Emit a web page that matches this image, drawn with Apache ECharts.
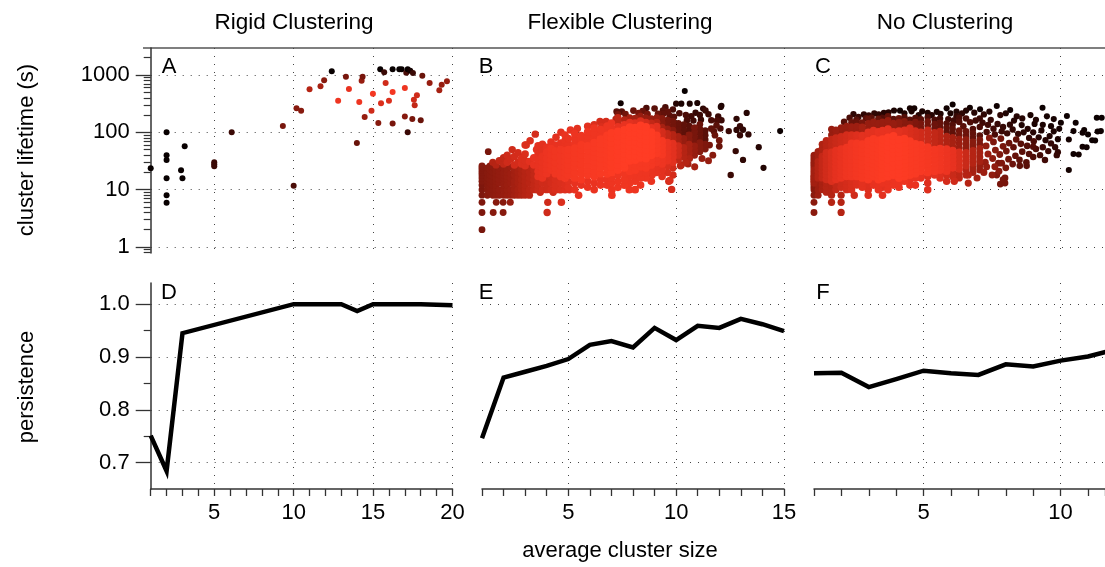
<!DOCTYPE html>
<html>
<head>
<meta charset="utf-8">
<script src="https://cdn.jsdelivr.net/npm/echarts@6/dist/echarts.min.js"></script>
<style>
    html, body { margin: 0; background: #fff; }
    #chart { width: 1105px; height: 567px; }
</style>
</head>
<body>
<div id="chart"></div>
<script>
// ---- data ----
// panel A: [avg cluster size, lifetime (s), colour level 0 = black .. 1 = bright red]
const rigidPts = [
    [1, 23.6, 0], [2, 100, 0], [2, 40, 0], [2, 33, 0], [2, 15.8, 0], [2, 8, 0], [2, 5.9, 0],
    [2.91, 21.7, 0], [3, 15.8, 0], [3.14, 57, 0],
    [5, 30, .2], [5, 27.7, .2], [5, 25.5, .2], [6.1, 100, .2], [9.32, 129, .4], [10, 11.7, .25],
    [10.18, 262, .45], [10.47, 239, .45], [11, 562, .6], [11.69, 635, .55], [11.92, 807, .45],
    [12.4, 1158, 0], [12.8, 357, .85], [13.29, 935, .4], [13.48, 570, .8], [13.98, 65, .35],
    [14.13, 338, .85], [14.28, 796, .5], [14.34, 935, .4], [14.47, 185, .5], [14.9, 239, .7],
    [14.99, 472, .9], [15.33, 145, .45], [15.45, 1256, 0], [15.5, 320, .75], [15.7, 1113, .2],
    [15.79, 725, .7], [16, 357, .75], [16.23, 505, .9], [16.23, 142, .4], [16.23, 1256, 0],
    [16.65, 1256, 0], [16.8, 1256, 0], [17, 593, .85], [17, 188, .45], [17.09, 1098, .25],
    [17.18, 1256, 0], [17.34, 1190, .05], [17.18, 100, .2], [17.47, 171, .4], [17.51, 1083, .2],
    [17.57, 371, .7], [17.62, 296, .65], [17.76, 442, .7], [18, 162, .35], [18.1, 973, .35],
    [18.56, 725, .5], [19.17, 540, .55], [19.32, 678, .5], [19.65, 776, .5]
];

// panel B: dense part as column pieces [x, level, [lifetimes]], fringe as single dots [x, lifetime, level]
const flexCore = [
    [1, .42, [4, 6, 8, 10, 12]], [1, .44, [14, 16, 18, 20, 22, 24, 26]],
    [1.25, .45, [8, 10, 12, 14, 16, 20, 24]],
    [1.37, .46, [9, 11, 13, 15, 18, 22, 26]],
    [1.5, .47, [8, 10, 12, 14, 17, 20, 25]], [1.5, .6, [30]],
    [1.65, .48, [8, 10, 12, 14, 16, 19, 22]], [1.65, .6, [27]],
    [1.8, .49, [8, 10, 13, 15, 18, 21, 24]], [1.8, .65, [32]],
    [2, .5, [8, 10, 12, 14, 16, 18, 20, 24]], [2, .65, [28, 36]],
    [2.17, .51, [8, 10, 12, 15, 17, 20, 23]], [2.17, .7, [30, 40]],
    [2.33, .52, [8, 10, 13, 16, 19, 25]], [2.33, .7, [34]],
    [2.5, .54, [8, 10, 12, 14, 18, 22]], [2.5, .72, [27]],
    [2.67, .56, [8, 10, 13, 16, 20, 24]], [2.67, .72, [30, 44]],
    [2.83, .58, [8, 10, 12, 15, 19, 23]], [2.83, .75, [28, 35]],
    [3, .6, [8, 10, 12, 14, 17, 21]], [3, .75, [26, 32, 42, 60]],
    [3.2, .62, [8, 10, 13, 16, 20, 25]], [3.2, .78, [31]],
    [3.4, .65, [10, 12, 15, 18, 22]], [3.4, .8, [27, 36]],
    [3.6, .68, [10, 12, 14]], [3.6, .8, [17, 21, 26, 33]], [3.6, .78, [42, 58]],
    [3.8, .7, [10, 13]], [3.8, .82, [16, 20, 24, 30, 38]], [3.8, .78, [48, 62]],
    [4, .7, [10, 12, 15]], [4, .84, [19, 23, 28, 35, 45]], [4, .8, [55]],
    [4.2, .72, [10, 13, 17]], [4.2, .86, [22, 27, 33, 41, 52]], [4.2, .8, [68]],
    [4.4, .74, [10, 12, 15]], [4.4, .87, [19, 24, 30, 38, 47]], [4.4, .8, [60]],
    [4.65, .75, [10, 13]], [4.65, .88, [17, 21, 26, 32, 40, 50]], [4.65, .8, [65]],
    [4.85, .76, [10, 12]], [4.85, .89, [16, 20, 25, 31, 39, 48]], [4.85, .82, [58, 72, 90]],
    [5, .78, [11, 14]], [5, .9, [18, 22, 27, 33, 41, 50]], [5, .82, [62, 78]],
    [5.3, .8, [10, 13]], [5.3, .91, [16, 20, 25, 30, 36, 44, 53]], [5.3, .84, [64, 78, 95]],
    [5.6, .8, [12]], [5.6, .92, [15, 19, 23, 28, 34, 41, 50, 60]], [5.6, .85, [72, 88]],
    [5.9, .82, [11, 14]], [5.9, .93, [18, 22, 27, 33, 40, 48, 58]], [5.9, .86, [70, 85, 102]],
    [6.2, .82, [13]], [6.2, .94, [17, 21, 26, 31, 38, 46, 55, 66]], [6.2, .86, [80, 96, 118]],
    [6.5, .84, [12, 15]], [6.5, .95, [19, 24, 29, 35, 43, 52, 63, 76]], [6.5, .86, [92, 112]],
    [6.8, .84, [12, 15]], [6.8, .96, [19, 23, 28, 34, 41, 50, 60, 73, 88]], [6.8, .85, [106, 128]],
    [7, .85, [13, 16]], [7, .97, [20, 25, 30, 37, 45, 55, 66, 80, 97]], [7, .84, [118, 145]],
    [7.3, .86, [11, 14, 18]], [7.3, .98, [22, 27, 33, 40, 48, 58, 70, 85, 103]], [7.3, .8, [125]], [7.3, .65, [150, 180]],
    [7.6, .87, [12, 15, 19]], [7.6, .99, [24, 29, 35, 42, 51, 62, 75, 90, 110]], [7.6, .8, [135]], [7.6, .6, [165]],
    [7.85, .86, [13, 17]], [7.85, .92, [21, 26]], [7.85, 1, [32, 39, 47, 57, 69, 83, 100, 122]], [7.85, .78, [148]], [7.85, .55, [180]],
    [8.1, .85, [14, 18]], [8.1, .92, [22, 27]], [8.1, 1, [33, 40, 48, 58, 70, 84, 100, 120]], [8.1, .76, [145]], [8.1, .55, [175]],
    [8.35, .85, [12, 16, 20]], [8.35, .92, [25, 30]], [8.35, 1, [36, 44, 53, 64, 77, 92, 110, 132]], [8.35, .75, [158]], [8.35, .5, [190]],
    [8.6, .85, [20]], [8.6, .92, [24, 29]], [8.6, 1, [35, 42, 50, 60, 72, 86, 103, 124]], [8.6, .72, [148]], [8.6, .5, [178]],
    [8.85, .82, [14, 22]], [8.85, .9, [27, 33]], [8.85, .99, [40, 48, 58, 70, 84, 100]], [8.85, .8, [120]], [8.85, .65, [144]], [8.85, .5, [172]],
    [9.1, .8, [20, 25]], [9.1, .88, [30, 36]], [9.1, .96, [43, 52, 62, 74, 88]], [9.1, .78, [105, 126]], [9.1, .6, [150]], [9.1, .5, [180]],
    [9.35, .78, [17, 22]], [9.35, .85, [28, 34]], [9.35, .92, [41, 49, 59, 71]], [9.35, .72, [85, 102]], [9.35, .55, [122]], [9.35, .45, [146, 175]],
    [9.6, .75, [20, 26]], [9.6, .82, [32, 38, 46, 55, 66]], [9.6, .65, [79, 95]], [9.6, .5, [114]], [9.6, .4, [136, 163]],
    [9.85, .72, [18, 24]], [9.85, .78, [30, 37, 44, 53, 64]], [9.85, .6, [76, 91]], [9.85, .45, [109]], [9.85, .38, [130, 156]],
    [10.1, .65, [33]], [10.1, .7, [40, 48, 58]], [10.1, .55, [70, 84]], [10.1, .35, [100, 120, 144]],
    [10.35, .6, [37, 45, 54]], [10.35, .5, [65, 78]], [10.35, .32, [94, 113, 136]],
    [10.6, .55, [43, 52, 62]], [10.6, .45, [75, 90]], [10.6, .3, [108, 130]],
    [10.85, .5, [40, 48, 58]], [10.85, .4, [70, 84, 101, 121]],
    [11.1, .45, [46, 55, 66]], [11.1, .35, [80, 96, 115, 138]],
    [11.35, .42, [51, 62]], [11.35, .3, [74, 89, 107]]
];
const flexEdge = [
    [1, 2, .4], [1.52, 4, .45], [1.98, 4, .45], [4.02, 4, .7], [1.66, 6, .45], [2.31, 6, .5], [1.98, 6, .45],
    [4.05, 6, .7], [4.68, 6, .75], [5.48, 8, .8], [6.2, 10, .82], [7.02, 10, .84], [7.02, 8, .84],
    [7.83, 10, .86], [8.1, 10, .85], [8.3, 19.8, .85], [8.6, 16, .85], [8.88, 18, .82], [9.71, 14.4, .75],
    [9.79, 10.1, .72], [9.66, 14, .72], [10.2, 26, .62], [10.45, 30, .6], [10.62, 35, .58],
    [3.55, 10, .66], [4.55, 10, .72], [5.05, 10, .76], [3.7, 9, .68], [4.3, 9, .7],
    [1.29, 46, .4], [2.92, 38, .72], [3.23, 71, .75], [3.47, 93, .72], [3.53, 50, .78], [4.15, 49, .8],
    [4.43, 82, .78], [4.93, 69, .8], [5.16, 55, .82], [5.42, 117, .78], [5.82, 82, .82], [6.24, 102, .78],
    [6.47, 154, .72], [6.75, 154, .72], [6.94, 110, .75], [5.1, 110, .8], [4.66, 100, .78], [5.9, 128, .78],
    [6.2, 135, .75], [6.55, 125, .75], [2.5, 38, .72], [2.4, 50, .7], [3.05, 60, .75],
    [7.21, 170, .6], [7.24, 230, .3], [7.48, 230, .3], [7.43, 321, .03], [7.3, 205, .4], [7.65, 207, .38],
    [8.26, 216, .4], [8.02, 240, .35], [8.62, 265, .25], [8.67, 207, .4], [8.45, 235, .35], [9.0, 260, .3],
    [9.16, 211, .35], [9.39, 240, .3], [9.62, 227, .33], [9.5, 275, .25], [9.85, 250, .25], [10.0, 316, .12],
    [10.24, 316, .08], [10.4, 527, 0], [10.63, 316, .08], [10.98, 325, .08], [10.15, 215, .25],
    [10.45, 200, .25], [10.7, 190, .22], [10.9, 220, .18], [11.25, 260, .15], [11.36, 240, .2],
    [11.1, 200, .2], [11.5, 207, .2], [11.63, 162, .25], [11.87, 132, .3], [11.63, 116, .32],
    [11.8, 89, .35], [12.0, 72, .38], [11.7, 40, .45], [11.5, 32, .5], [11.2, 35, .5], [10.86, 25, .55],
    [10.55, 28, .55], [10.24, 27, .58], [12.07, 277, .1], [12.1, 290, .08], [11.9, 160, .25],
    [12.05, 117, .25], [12.0, 57, .35], [11.95, 190, .2], [12.1, 162, .2], [11.55, 60, .4], [11.75, 104, .3],
    [10.8, 160, .22], [11.15, 166, .2], [10.5, 163, .25], [9.9, 187, .3], [9.7, 195, .3], [9.4, 210, .33],
    [12.44, 105, .2], [12.53, 18, .2], [12.76, 47, .18], [12.8, 110, .15], [12.8, 172, .15], [12.96, 89, .18],
    [12.96, 128, .18], [13.1, 33, .15], [13.1, 111, .15], [13.27, 218, .12], [13.35, 92, .15],
    [13.83, 55, .12], [14.05, 24, .1], [14.82, 105, .02]
];

// panel C, same two forms
const noneCore = [
    [1, .46, [4, 6, 8, 10, 11, 12]], [1, .54, [13, 14, 15, 16, 17, 18, 20, 22]], [1, .5, [24, 26, 28, 30, 33, 36, 40]],
    [1.15, .52, [8, 10, 12, 14]], [1.15, .6, [16, 18, 21, 24, 27, 31]], [1.15, .54, [35, 40, 46]],
    [1.3, .56, [10, 12, 14]], [1.3, .66, [16, 19, 22, 25, 29, 33, 38]], [1.3, .58, [44, 52, 62]],
    [1.45, .6, [9, 11, 13]], [1.45, .71, [15, 18, 21, 24, 28, 33, 38, 44]], [1.45, .62, [51, 60, 72]],
    [1.64, .6, [6, 8, 10, 12]], [1.64, .75, [14, 17, 20, 24, 28, 33, 38, 45]], [1.64, .65, [53, 62, 75]], [1.64, .5, [90, 113]],
    [1.8, .66, [10, 12]], [1.8, .79, [15, 18, 21, 25, 30, 35, 41, 48]], [1.8, .68, [57, 67, 80]], [1.8, .52, [95, 110]],
    [1.99, .6, [4, 6, 8]], [1.99, .7, [11, 13]], [1.99, .82, [16, 19, 22, 26, 31, 37, 43, 51]], [1.99, .7, [60, 71, 84]], [1.99, .5, [100, 120]],
    [2.19, .72, [10, 12, 14]], [2.19, .86, [17, 20, 24, 28, 33, 39, 46, 54]], [2.19, .72, [64, 76, 90]], [2.19, .5, [108, 128]],
    [2.37, .74, [10, 12, 14]], [2.37, .88, [17, 20, 24, 28, 33, 39, 46, 54, 64]], [2.37, .74, [76, 90]], [2.37, .52, [106, 125]], [2.37, .35, [150]],
    [2.47, .7, [8]],
    [2.56, .76, [12, 14]], [2.56, .9, [17, 20, 24, 28, 33, 39, 46, 54, 64]], [2.56, .76, [76, 90]], [2.56, .52, [107, 127]], [2.56, .35, [150]],
    [2.76, .78, [11, 13]], [2.76, .92, [16, 19, 22, 26, 31, 37, 44, 52, 62]], [2.76, .78, [74, 88]], [2.76, .55, [104, 124]], [2.76, .4, [148]],
    [2.98, .76, [8, 10, 12]], [2.98, .94, [15, 18, 21, 25, 30, 35, 42, 50, 60, 71]], [2.98, .78, [85, 100]], [2.98, .5, [120, 142]], [2.98, .35, [170]],
    [3.17, .8, [12, 14]], [3.17, .95, [17, 20, 24, 28, 33, 39, 46, 55, 65, 77]], [3.17, .78, [91, 108]], [3.17, .5, [128, 152]],
    [3.35, .8, [10, 12]], [3.35, .96, [15, 18, 21, 25, 30, 36, 43, 51, 61, 72]], [3.35, .8, [86, 102]], [3.35, .5, [121, 144]], [3.35, .35, [171]],
    [3.5, .78, [8, 11]], [3.5, .82, [13]], [3.5, .97, [16, 19, 23, 27, 32, 38, 45, 54, 64, 76]], [3.5, .8, [90, 107]], [3.5, .5, [127, 151]],
    [3.7, .82, [10, 12, 14]], [3.7, .98, [17, 20, 24, 29, 34, 40, 48, 57, 68, 81]], [3.7, .8, [96, 114]], [3.7, .5, [135, 160]], [3.7, .35, [190]],
    [3.9, .84, [12, 15]], [3.9, .98, [18, 21, 25, 30, 36, 43, 51, 61, 72, 86]], [3.9, .78, [102]], [3.9, .5, [121, 144]],
    [4.1, .84, [11, 13]], [4.1, .98, [16, 19, 22, 26, 31, 37, 44, 52, 62, 74]], [4.1, .78, [88, 105]], [4.1, .48, [125, 148]], [4.1, .35, [176]],
    [4.3, .85, [14]], [4.3, .97, [17, 20, 24, 28, 33, 39, 46, 55, 65, 77]], [4.3, .76, [92, 109]], [4.3, .45, [130, 154]],
    [4.5, .82, [12, 15]], [4.5, .96, [18, 21, 25, 30, 35, 42, 50, 59, 70]], [4.5, .74, [83, 99, 118]], [4.5, .45, [140]], [4.5, .3, [166]],
    [4.7, .82, [12, 16]], [4.7, .95, [19, 23, 27, 32, 38, 45, 53, 63]], [4.7, .72, [75, 89, 106]], [4.7, .42, [126, 150]],
    [4.9, .8, [16, 18]], [4.9, .94, [21, 25, 30, 36, 43, 51, 60]], [4.9, .7, [72, 85, 101]], [4.9, .4, [120, 142]], [4.9, .3, [169]],
    [5.15, .76, [10, 13, 17]], [5.15, .92, [20, 24, 28, 33, 39, 46, 55]], [5.15, .68, [65, 77, 92, 109]], [5.15, .38, [130, 154]],
    [5.4, .78, [18]], [5.4, .9, [21, 25, 30, 35, 42, 50]], [5.4, .65, [59, 70, 83, 99]], [5.4, .36, [117, 139]],
    [5.6, .76, [16, 19]], [5.6, .88, [22, 26, 31, 37, 44, 52]], [5.6, .62, [62, 74, 88, 104]], [5.6, .34, [124, 147]],
    [5.84, .72, [14, 18]], [5.84, .84, [21, 25, 30, 36, 43, 51]], [5.84, .58, [60, 71, 85]], [5.84, .32, [101, 120]],
    [6.06, .68, [17, 20]], [6.06, .8, [24, 29, 34, 40, 48]], [6.06, .55, [57, 68, 81]], [6.06, .32, [96, 114]],
    [6.3, .64, [16, 19]], [6.3, .74, [23, 27, 32, 38, 45]], [6.3, .52, [54, 64, 76]], [6.3, .38, [90, 107]],
    [6.55, .6, [18, 22]], [6.55, .68, [26, 31, 37, 44]], [6.55, .48, [52, 62, 74]], [6.55, .36, [88, 104]],
    [6.8, .55, [20, 24]], [6.8, .6, [29, 34, 40, 48]], [6.8, .45, [57, 68]], [6.8, .33, [81, 96]],
    [7.05, .5, [22, 26]], [7.05, .55, [31, 37, 44, 52]], [7.05, .42, [62, 74]], [7.05, .3, [88]]
];
const noneEdge = [
    [2.44, 208, .15], [2.62, 185, .2], [2.82, 205, .15], [3.0, 198, .18], [3.2, 214, .15], [3.36, 205, .15],
    [3.55, 218, .12], [3.72, 224, .12], [3.92, 240, .08], [4.14, 239, .04], [4.3, 215, .1], [4.5, 262, .05],
    [4.56, 232, .08], [4.66, 262, .05], [4.82, 200, .12], [4.95, 232, .08], [5.15, 218, .1], [5.3, 200, .12],
    [5.48, 228, .08], [5.62, 210, .1], [5.84, 262, .04], [5.98, 215, .08], [6.06, 307, .02], [6.2, 230, .1],
    [6.4, 214, .15], [6.55, 240, .1], [6.69, 268, .04], [6.85, 220, .12], [7.06, 252, .03], [7.2, 205, .15],
    [7.4, 230, .1], [7.67, 288, .03], [7.8, 200, .15], [8.0, 215, .1], [8.16, 246, .03], [8.4, 190, .12],
    [8.6, 175, .12], [8.9, 200, .08], [9.34, 268, .02], [9.1, 165, .1], [9.5, 190, .06], [9.75, 170, .06],
    [2.1, 152, .3], [2.3, 180, .25], [2.55, 165, .3], [2.9, 176, .3], [3.1, 180, .3], [3.5, 180, .28],
    [3.9, 171, .3], [4.3, 183, .28], [4.7, 178, .28], [5.15, 183, .25], [5.4, 165, .25], [5.6, 175, .22],
    [5.84, 143, .28], [5.9, 170, .22], [6.06, 136, .28], [6.1, 161, .22], [6.2, 191, .18],
    [10.01, 147, .03], [10.23, 193, .02], [10.55, 147, .02], [11.32, 180, .01], [11.5, 180, .01],
    [10.3, 75, .05], [10.3, 22, .05], [10.47, 42, .03], [10.47, 105, .03], [10.66, 41, .04], [10.8, 56, .03],
    [10.8, 98, .03], [10.86, 110, .02], [10.95, 55, .03], [11.0, 92, .02], [11.15, 73, .02], [11.26, 72, .02],
    [11.35, 103, .02], [11.47, 105, .02],
    [6.3, 151, .28], [6.3, 180, .25], [6.45, 127, .3], [6.55, 175, .25], [6.7, 150, .26], [6.8, 114, .28],
    [6.9, 161, .22], [7.05, 124, .25], [7.15, 147, .22], [7.05, 175, .2], [7.3, 101, .25], [7.35, 135, .22],
    [7.45, 165, .18], [7.55, 115, .22], [7.6, 92, .25], [7.7, 140, .18], [7.85, 104, .2], [7.9, 124, .18],
    [8.05, 96, .2], [8.15, 136, .15], [8.25, 112, .16], [8.3, 160, .12], [8.45, 94, .18], [8.58, 134, .1],
    [8.65, 100, .14], [8.8, 115, .12], [8.85, 80, .16], [9.0, 100, .12], [9.05, 140, .08], [9.2, 82, .12],
    [9.3, 108, .1], [9.35, 135, .08], [9.45, 73, .12], [9.6, 86, .1], [9.65, 128, .06], [9.75, 104, .08],
    [9.9, 76, .08], [9.95, 115, .06],
    [7.25, 30, .5], [7.35, 42, .5], [7.28, 58, .48], [7.4, 80, .45], [7.5, 18, .48], [7.6, 25, .48],
    [7.52, 35, .47], [7.62, 49, .45], [7.55, 68, .42], [7.75, 21, .45], [7.85, 29, .42], [7.78, 41, .42],
    [7.9, 57, .4], [7.82, 78, .38], [8.0, 24, .4], [8.1, 34, .38], [8.02, 47, .38], [8.12, 65, .35],
    [8.25, 28, .36], [8.35, 39, .34], [8.28, 55, .33], [8.38, 75, .32], [8.5, 33, .32], [8.6, 46, .3],
    [8.55, 63, .3], [8.75, 30, .3], [8.85, 42, .28], [8.78, 58, .28], [9.0, 37, .26], [9.1, 51, .25],
    [9.02, 70, .25], [9.25, 40, .23], [9.35, 55, .22], [9.55, 47, .2], [9.65, 64, .18], [9.8, 55, .16],
    [9.9, 45, .16],
    [7.8, 12.5, .4], [7.97, 13, .4], [7.97, 16, .4], [7.9, 15, .4], [7.73, 29, .4], [7.67, 18, .42],
    [8.51, 26, .32], [8.76, 26, .3], [9.0, 56, .28], [9.43, 33, .22], [9.86, 40, .18], [6.12, 14, .7],
    [6.63, 18, .6], [6.63, 13, .6], [7.3, 25, .5], [6.95, 16, .55], [7.2, 20, .52]
];

// panels D, E, F: persistence against average cluster size
const rigidX = [1, 2, 3, 10, 11, 12, 13, 14, 15, 16, 17, 18, 19, 20];
const rigidP = [0.751, 0.684, 0.945, 1.0, 1.0, 1.0, 1.0, 0.987, 1.0, 1.0, 1.0, 1.0, 0.999, 0.998];
const flexX = [1, 2, 3, 4, 5, 6, 7, 8, 9, 10, 11, 12, 13, 14, 15];
const flexP = [0.746, 0.861, 0.872, 0.883, 0.896, 0.923, 0.930, 0.918, 0.955, 0.932, 0.959, 0.955, 0.972, 0.962, 0.949];
const noneX = [1, 2, 3, 4, 5, 6, 7, 8, 9, 10, 11, 12];
const noneP = [0.869, 0.870, 0.843, 0.858, 0.874, 0.869, 0.866, 0.886, 0.882, 0.893, 0.901, 0.914];

const xMax = [20, 15, 11.62];
const xLabels = [[5, 10, 15, 20], [5, 10, 15], [5, 10]];
const lifeLabels = [1, 10, 100, 1000];
const lifeMinor = [0.8, 0.9, 2, 3, 4, 5, 6, 7, 8, 9, 20, 30, 40, 50, 60, 70, 80, 90,
    200, 300, 400, 500, 600, 700, 800, 900, 2000];
const persLabels = [0.7, 0.8, 0.9, 1.0];
const persMinor = [0.75, 0.85, 0.95];
const titles = ['Rigid Clustering', 'Flexible Clustering', 'No Clustering'];
const letters = ['A', 'B', 'C', 'D', 'E', 'F'];

// ---- chart ----
const FONT = "'Liberation Sans', Arial, Helvetica, sans-serif";
const dotted = { color: '#444', width: 1, type: [1, 7] };
const axisCol = '#333';
const ramp = ['#080000', '#3a0905', '#78160c', '#b52414', '#e83220', '#ff3c24'];

// column pieces + single dots -> one list, darkest drawn first so the bright core sits on top
const toPts = (groups, singles) => {
    const out = singles.slice();
    groups.forEach(([x, lvl, ys]) => ys.forEach(y => out.push([x, y, lvl])));
    return out.sort((a, b) => a[2] - b[2]);
};
const zip = (xs, ys) => xs.map((x, i) => [x, ys[i]]);

const gridLeft = [150.7, 482, 814];
const gridW = [301.8, 302, 291];
const grid = [];
[48, 283].forEach((top, r) => {
    gridLeft.forEach((left, i) => {
        grid.push({ left: left, top: top, width: gridW[i], height: r === 0 ? 205 : 206 });
    });
});

const xAxis = [];
// top row: hidden, only the dotted verticals
[0, 1, 2].forEach(i => xAxis.push({
    gridIndex: i, type: 'value', min: 1, max: xMax[i],
    axisLine: { show: false }, axisTick: { show: false, customValues: xLabels[i] },
    axisLabel: { show: false }, splitLine: { show: true, lineStyle: dotted }
}));
// bottom row: the real axes
[0, 1, 2].forEach(i => xAxis.push({
    gridIndex: 3 + i, type: 'value', position: 'bottom', min: 1, max: xMax[i], interval: 1,
    axisLine: { show: true, onZero: false, lineStyle: { color: axisCol, width: 1.5 } },
    axisTick: { show: true, length: 7, lineStyle: { color: axisCol, width: 1.3 } },
    axisLabel: { customValues: xLabels[i], margin: 13, fontSize: 22, fontFamily: FONT, color: '#000' },
    splitLine: { show: false }
}));
// bottom row: dotted verticals
[0, 1, 2].forEach(i => xAxis.push({
    gridIndex: 3 + i, type: 'value', position: 'top', min: 1, max: xMax[i],
    axisLine: { show: false }, axisTick: { show: false, customValues: xLabels[i] },
    axisLabel: { show: false }, splitLine: { show: true, lineStyle: dotted }
}));

const lifeY = (g, main) => ({
    gridIndex: g, type: 'log', logBase: 10, min: 0.785, max: 2958, position: 'left',
    axisLine: { show: main, onZero: false, lineStyle: { color: axisCol, width: 1.5 } },
    axisTick: { show: main, customValues: lifeLabels, length: 15, lineStyle: { color: axisCol, width: 1.3 } },
    axisLabel: {
        show: main, customValues: lifeLabels, margin: 21, fontSize: 22, fontFamily: FONT, color: '#000',
        formatter: v => String(Math.round(v))
    },
    splitLine: { show: true, lineStyle: dotted }
});
const persY = (g, main) => ({
    gridIndex: g, type: 'value', min: 0.65, max: 1.04, position: 'left',
    axisLine: { show: main, onZero: false, lineStyle: { color: axisCol, width: 1.5 } },
    axisTick: { show: main, customValues: persLabels, length: 15, lineStyle: { color: axisCol, width: 1.3 } },
    axisLabel: {
        show: main, customValues: persLabels, margin: 21, fontSize: 22, fontFamily: FONT, color: '#000',
        formatter: v => v.toFixed(1)
    },
    splitLine: { show: true, lineStyle: dotted }
});
const yAxis = [
    lifeY(0, true), lifeY(1, false), lifeY(2, false),
    persY(3, true), persY(4, false), persY(5, false),
    // minor ticks on the two visible y axes
    {
        gridIndex: 0, type: 'log', logBase: 10, min: 0.785, max: 2958, position: 'left',
        axisLine: { show: false }, axisLabel: { show: false }, splitLine: { show: false },
        axisTick: { show: true, customValues: lifeMinor, length: 7, lineStyle: { color: axisCol, width: 1.2 } }
    },
    {
        gridIndex: 3, type: 'value', min: 0.65, max: 1.04, position: 'left',
        axisLine: { show: false }, axisLabel: { show: false }, splitLine: { show: false },
        axisTick: { show: true, customValues: persMinor, length: 7, lineStyle: { color: axisCol, width: 1.2 } }
    }
];

const scatter = (i, data) => ({
    type: 'scatter', xAxisIndex: i, yAxisIndex: i, data: data,
    symbolSize: 6, itemStyle: { opacity: 1 }, animation: false
});
const line = (i, data) => ({
    type: 'line', xAxisIndex: 3 + i, yAxisIndex: 3 + i, data: data,
    showSymbol: false, symbol: 'none', animation: false,
    lineStyle: { color: '#000', width: 4.5, join: 'miter' }
});

const text = (t, x, y, extra, size) => Object.assign({
    type: 'text', x: x, y: y,
    style: { text: t, fontSize: size || 22, fontFamily: FONT, fill: '#000', align: 'center', verticalAlign: 'middle' }
}, extra || {});

const graphic = [
    { type: 'line', shape: { x1: 143, y1: 48, x2: 1105, y2: 48 }, style: { stroke: '#555', lineWidth: 1.5 } },
    text(titles[0], 294, 23, null, 22.5), text(titles[1], 620, 23, null, 22.5), text(titles[2], 945, 23, null, 22.5),
    text('cluster lifetime (s)', 27, 150, { rotation: Math.PI / 2 }),
    text('persistence', 27, 387, { rotation: Math.PI / 2 }),
    text('average cluster size', 620, 551)
];
letters.forEach((l, k) => {
    graphic.push(text(l, [169, 486, 823][k % 3], k < 3 ? 67 : 293));
});

const option = {
    backgroundColor: '#fff',
    animation: false,
    grid: grid,
    xAxis: xAxis,
    yAxis: yAxis,
    visualMap: [
        { type: 'continuous', show: false, dimension: 2, seriesIndex: 0, min: 0, max: 1, inRange: { color: ramp } },
        {
            type: 'continuous', show: false, dimension: 2, seriesIndex: [1, 2], min: 0, max: 1,
            inRange: { color: ramp, symbolSize: [6, 8] }
        }
    ],
    series: [
        scatter(0, rigidPts), scatter(1, toPts(flexCore, flexEdge)), scatter(2, toPts(noneCore, noneEdge)),
        line(0, zip(rigidX, rigidP)), line(1, zip(flexX, flexP)), line(2, zip(noneX, noneP))
    ],
    graphic: graphic
};

const chart = echarts.init(document.getElementById('chart'));
chart.setOption(option);
</script>
</body>
</html>
